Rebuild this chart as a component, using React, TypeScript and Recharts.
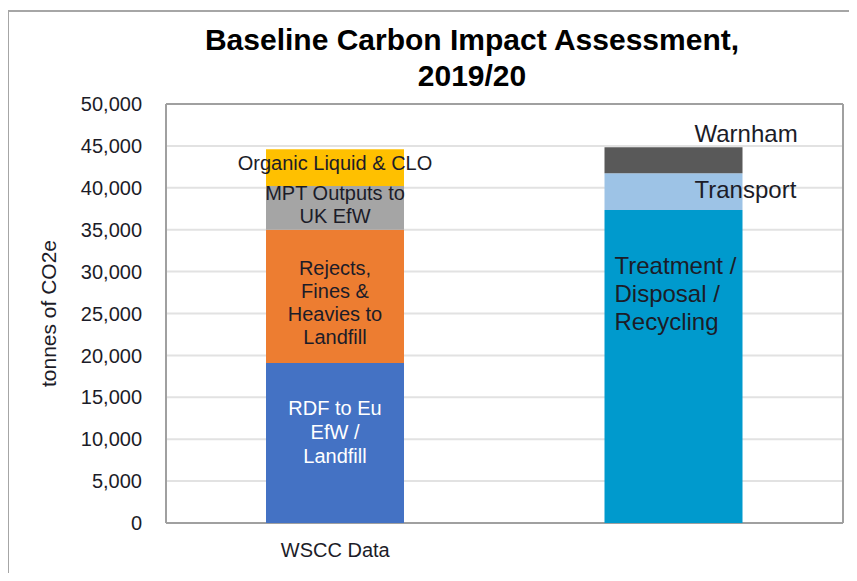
import React from 'react'
import { BarChart, Bar, XAxis, YAxis, CartesianGrid, LabelList } from 'recharts'

const categories = ['WSCC Data', '']
const rdfToEu = [19100, null]
const rejectsToLandfill = [15900, null]
const mptOutputs = [5200, null]
const organicLiquid = [4400, null]
const treatment = [null, 37350]
const transport = [null, 4400]
const warnham = [null, 3100]
const yTicks = [0, 5000, 10000, 15000, 20000, 25000, 30000, 35000, 40000, 45000, 50000]

const FONT = '"Liberation Sans", Arial, sans-serif'
const TEXT = '#1c1c28'

const data = categories.map((name, i) => ({
  name,
  rdf: rdfToEu[i],
  rejects: rejectsToLandfill[i],
  mpt: mptOutputs[i],
  organic: organicLiquid[i],
  treatment: treatment[i],
  transport: transport[i],
  warnham: warnham[i],
}))

type LabelCfg = {
  lines: string[]
  color: string
  size: number
  lineHeight: number
  mode: 'center' | 'left' | 'side' | 'above'
  dx?: number
  dy?: number
}

function segmentLabel(cfg: LabelCfg) {
  return (props: any) => {
    const { x, y, width, height, value } = props
    if (value == null || !value) return null
    const n = cfg.lines.length
    let tx = x + width / 2
    let anchor: 'middle' | 'start' = 'middle'
    let firstY = y + height / 2 - ((n - 1) * cfg.lineHeight) / 2
    if (cfg.mode === 'left') {
      tx = x + (cfg.dx ?? 0)
      anchor = 'start'
      firstY = y
    } else if (cfg.mode === 'side') {
      tx = x + (cfg.dx ?? 0)
      anchor = 'start'
    } else if (cfg.mode === 'above') {
      tx = x + (cfg.dx ?? 0)
      anchor = 'start'
      firstY = y
    }
    firstY += cfg.dy ?? 0
    return (
      <text
        x={tx}
        y={firstY}
        textAnchor={anchor}
        fill={cfg.color}
        fontSize={cfg.size}
        fontFamily={FONT}
      >
        {cfg.lines.map((l, i) => (
          <tspan key={i} x={tx} y={firstY + i * cfg.lineHeight} dy="0.35em">
            {l}
          </tspan>
        ))}
      </text>
    )
  }
}

function YLabel(props: any) {
  const { viewBox } = props
  const cx = viewBox.x + 48
  const cy = viewBox.y + viewBox.height / 2
  return (
    <text
      x={cx}
      y={cy}
      transform={`rotate(-90, ${cx}, ${cy})`}
      textAnchor="middle"
      fill={TEXT}
      fontSize={21}
      fontFamily={FONT}
    >
      tonnes of CO2e
    </text>
  )
}

export default function App() {
  return (
    <div
      style={{
        position: 'relative',
        margin: -8,
        width: 857,
        height: 581,
        background: '#fff',
        overflow: 'hidden',
        fontFamily: FONT,
      }}
    >
      <div
        style={{
          position: 'absolute',
          left: 7,
          top: 10,
          width: 1000,
          height: 1000,
          border: '2px solid #a6a6a6',
        }}
      />
      <div
        style={{
          position: 'absolute',
          left: 172,
          top: 22,
          width: 600,
          textAlign: 'center',
          fontSize: 30,
          fontWeight: 'bold',
          lineHeight: '36px',
          color: '#000',
        }}
      >
        Baseline Carbon Impact Assessment,
        <br />
        2019/20
      </div>
      <div style={{ position: 'absolute', left: 0, top: 0 }}>
        <BarChart
          width={857}
          height={581}
          data={data}
          margin={{ top: 104, right: 14, bottom: 28, left: 8 }}
          barSize={138}
        >
          <CartesianGrid vertical={false} stroke="#e2e2e2" strokeWidth={2} />
          <CartesianGrid
            stroke="#a0a0a0"
            strokeWidth={2}
            horizontalCoordinatesGenerator={({ offset }: any) => [offset.top, offset.top + offset.height]}
            verticalCoordinatesGenerator={({ offset }: any) => [offset.left, offset.left + offset.width]}
          />
          <XAxis
            dataKey="name"
            axisLine={false}
            tickLine={false}
            tickSize={0}
            tickMargin={20}
            height={30}
            tick={{ fontSize: 20, fill: TEXT, fontFamily: FONT }}
          />
          <YAxis
            width={158}
            domain={[0, 50000]}
            ticks={yTicks}
            interval={0}
            axisLine={false}
            tickLine={false}
            tickSize={0}
            tickMargin={24}
            tickFormatter={(v: number) => v.toLocaleString('en-US')}
            tick={{ fontSize: 20, fill: TEXT, fontFamily: FONT }}
            label={<YLabel />}
          />
          <Bar dataKey="rdf" stackId="a" fill="#4472c4" isAnimationActive={false}>
            <LabelList
              dataKey="rdf"
              content={segmentLabel({ lines: ['RDF to Eu', 'EfW /', 'Landfill'], color: '#fff', size: 20, lineHeight: 24, mode: 'center', dy: -11 })}
            />
          </Bar>
          <Bar dataKey="rejects" stackId="a" fill="#ed7d31" isAnimationActive={false}>
            <LabelList
              dataKey="rejects"
              content={segmentLabel({ lines: ['Rejects,', 'Fines &', 'Heavies to', 'Landfill'], color: TEXT, size: 20, lineHeight: 23, mode: 'center', dy: 6 })}
            />
          </Bar>
          <Bar dataKey="mpt" stackId="a" fill="#a5a5a5" isAnimationActive={false}>
            <LabelList
              dataKey="mpt"
              content={segmentLabel({ lines: ['MPT Outputs to', 'UK EfW'], color: TEXT, size: 20, lineHeight: 23, mode: 'center', dy: -3 })}
            />
          </Bar>
          <Bar dataKey="organic" stackId="a" fill="#ffc000" isAnimationActive={false}>
            <LabelList
              dataKey="organic"
              content={segmentLabel({ lines: ['Organic Liquid & CLO'], color: TEXT, size: 20, lineHeight: 23, mode: 'center', dy: -5 })}
            />
          </Bar>
          <Bar dataKey="treatment" stackId="a" fill="#009acd" isAnimationActive={false}>
            <LabelList
              dataKey="treatment"
              content={segmentLabel({ lines: ['Treatment /', 'Disposal /', 'Recycling'], color: TEXT, size: 24, lineHeight: 28, mode: 'left', dx: 10, dy: 56 })}
            />
          </Bar>
          <Bar dataKey="transport" stackId="a" fill="#9dc3e6" isAnimationActive={false}>
            <LabelList
              dataKey="transport"
              content={segmentLabel({ lines: ['Transport'], color: TEXT, size: 24, lineHeight: 28, mode: 'side', dx: 90, dy: -2 })}
            />
          </Bar>
          <Bar dataKey="warnham" stackId="a" fill="#595959" isAnimationActive={false}>
            <LabelList
              dataKey="warnham"
              content={segmentLabel({ lines: ['Warnham'], color: TEXT, size: 24, lineHeight: 28, mode: 'above', dx: 90, dy: -14 })}
            />
          </Bar>
        </BarChart>
      </div>
    </div>
  )
}
